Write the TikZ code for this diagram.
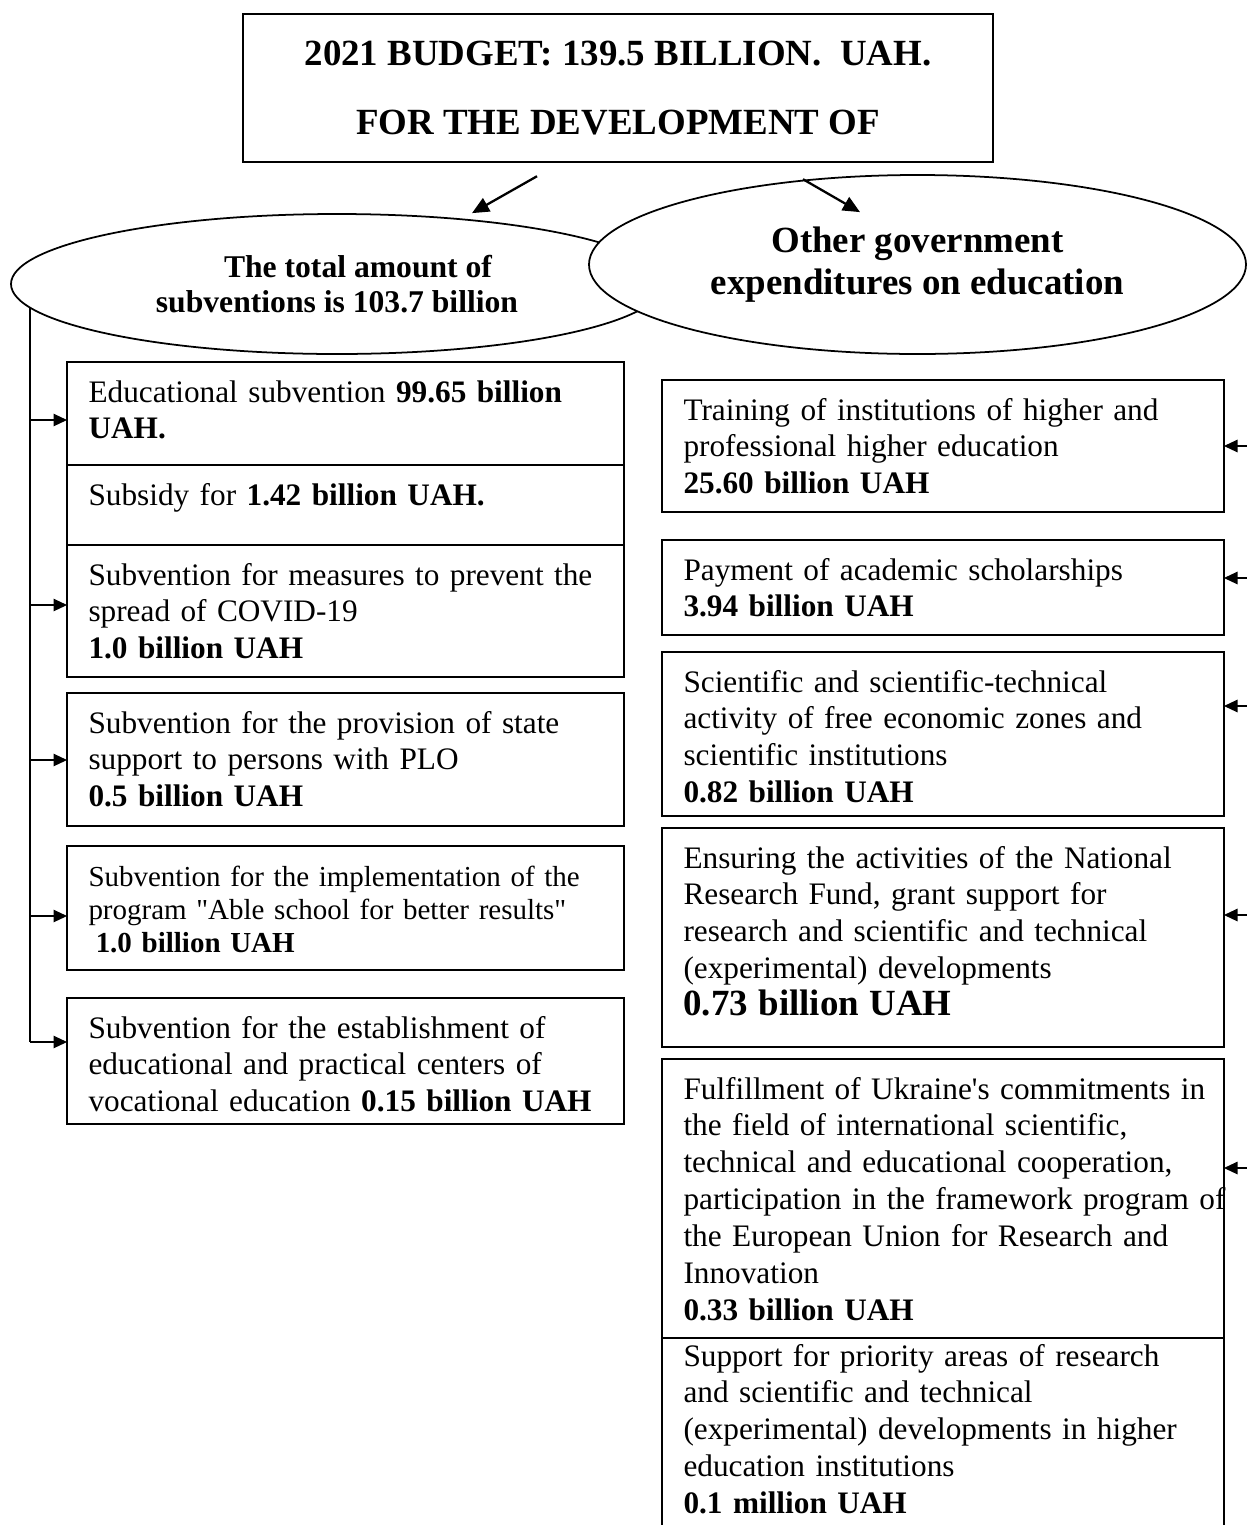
\documentclass[tikz,border=0pt]{standalone}
\usepackage{fontspec}
\setmainfont{Liberation Serif}
\usetikzlibrary{shapes.geometric,arrows.meta,positioning,backgrounds}

\newcommand{\jline}[1]{\makebox[\linewidth][s]{#1}}

\begin{document}
\begin{tikzpicture}[
  cell/.style={rectangle, draw, line width=1.3pt, anchor=north west, inner xsep=0.43cm, inner ysep=0pt, outer sep=0pt,
    text height=0.8cm, align=left, font=\fontsize{17.8}{21}\selectfont},
  lcell/.style={cell, text width=10.28cm},
  rcell/.style={cell, text width=10.38cm},
  oval/.style={ellipse, draw, line width=1pt, fill=white, inner sep=0pt, align=center},
  arr/.style={-{Triangle[length=0.27cm,width=0.25cm]}, line width=0.6pt},
  bigarr/.style={-{Triangle[length=0.34cm,width=0.3cm]}, line width=1.3pt},
  wire/.style={line width=0.6pt}
]
  \useasboundingbox (0,0) rectangle (24.94,-30.5);
  \clip (0,0) rectangle (24.94,-30.5);

  % heading
  \node[rectangle, draw, line width=1.4pt, minimum width=15cm, minimum height=2.96cm, align=center,
    font=\fontsize{21}{38.7}\selectfont\bfseries] (budget) at (12.36,-1.76)
    {2021 BUDGET: 139.5 BILLION.\ \ UAH.\\FOR THE DEVELOPMENT OF};

  % two branches
  \node[oval, minimum width=13.04cm, minimum height=2.8cm, font=\fontsize{18}{20}\selectfont\bfseries] (sub) at (6.74,-5.68)
    {\hspace*{0.84cm}The total amount of\\subventions is 103.7 billion};
  \node[oval, minimum width=13.14cm, minimum height=3.58cm, font=\fontsize{21}{24}\selectfont\bfseries] (other) at (18.35,-5.29)
    {Other government\\expenditures on education};

  \draw[bigarr] ([shift={(-1.62,-0.26)}]budget.south) -- ([xshift=2.7cm]sub.north);
  \draw[bigarr] ([shift={(3.7,-0.32)}]budget.south) -- ([shift={(-1.15,-0.76)}]other.north);

  % subventions
  \node[lcell, text depth=1.26cm] (l1) at (1.34,-7.24)
    {Educational subvention \textbf{99.65 billion}\\\textbf{UAH.}};
  \node[lcell, text depth=0.8cm] (l2) at (l1.south west)
    {Subsidy for \textbf{1.42 billion UAH.}};
  \node[lcell, text depth=1.84cm] (l3) at (l2.south west)
    {Subvention for measures to prevent the\\spread of COVID-19\\\textbf{1.0 billion UAH}};
  \node[lcell, text depth=1.86cm] (l4) at (1.34,-13.86)
    {Subvention for the provision of state\\support to persons with PLO\\\textbf{0.5 billion UAH}};
  \node[lcell, text depth=1.68cm, font=\fontsize{16.5}{18.8}\selectfont] (l5) at (1.34,-16.92)
    {\jline{Subvention for the implementation of the}\\program \textquotedbl Able school for better results\textquotedbl\\\hspace*{0.25em}\textbf{1.0 billion UAH}};
  \node[lcell, text depth=1.72cm] (l6) at (1.34,-19.96)
    {\jline{Subvention for the establishment of}\\\jline{educational and practical centers of}\\vocational education \textbf{0.15 billion UAH}};

  % other expenditures
  \node[rcell, text depth=1.84cm] (r1) at (13.24,-7.6)
    {\jline{Training of institutions of higher and}\\professional higher education\\\textbf{25.60 billion UAH}};
  \node[rcell, text depth=1.1cm] (r2) at (13.24,-10.8)
    {Payment of academic scholarships\\\textbf{3.94 billion UAH}};
  \node[rcell, text depth=2.48cm] (r3) at (13.24,-13.04)
    {Scientific and scientific-technical\\activity of free economic zones and\\scientific institutions\\\textbf{0.82 billion UAH}};
  \node[rcell, text depth=3.58cm] (r4) at (13.24,-16.56)
    {Ensuring the activities of the National\\Research Fund, grant support for\\research and scientific and technical\\(experimental) developments\\{\fontsize{21}{24}\selectfont\bfseries 0.73 billion UAH}};
  \node[rcell, text depth=4.78cm] (r5) at (13.24,-21.18)
    {\mbox{Fulfillment of Ukraine\textquotesingle s commitments in}\\the field of international scientific,\\technical and educational cooperation,\\\mbox{participation in the framework program of}\\the European Union for Research and\\Innovation\\\textbf{0.33 billion UAH}};
  \node[rcell, text height=0.56cm, text depth=4cm] (r6) at (r5.south west)
    {Support for priority areas of research\\and scientific and technical\\(experimental) developments in higher\\education institutions\\\textbf{0.1 million UAH}};

  % left spine
  \coordinate (lt) at (0.6,-20.84);
  \begin{scope}[on background layer]
    \draw[wire] (lt |- sub.center) -- (lt);
  \end{scope}
  \foreach \n/\y in {l1/8.4, l3/12.1, l4/15.2, l5/18.32, l6/20.84} {
    \coordinate (t\n) at (0.6,-\y);
    \draw[arr] (t\n) -- (t\n -| \n.west);
  }

  % right feeders
  \foreach \n/\y in {r1/8.92, r2/11.56, r3/14.12, r4/18.3, r5/23.36} {
    \coordinate (f\n) at (25.2,-\y);
    \draw[arr] (f\n) -- (f\n -| \n.east);
  }
\end{tikzpicture}
\end{document}
